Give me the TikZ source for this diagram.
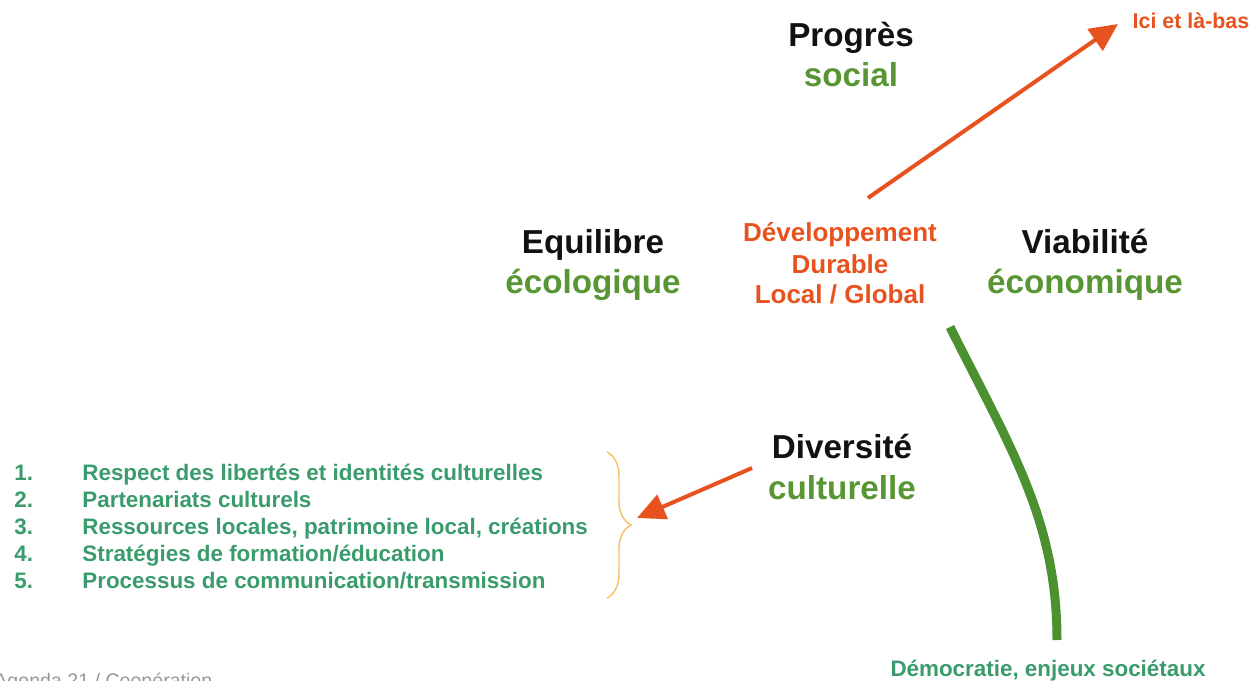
\documentclass[tikz,border=0pt]{standalone}
\usepackage{fontspec}
\setmainfont{Liberation Sans}
\usetikzlibrary{arrows.meta,decorations.pathreplacing}
\definecolor{leafgreen}{RGB}{88,150,52}
\definecolor{arcgreen}{RGB}{76,145,48}
\definecolor{tealgreen}{RGB}{58,155,108}
\definecolor{ddorange}{RGB}{232,82,30}
\definecolor{braceorange}{RGB}{246,192,96}
\definecolor{footgray}{RGB}{150,150,150}

\begin{document}
\begin{tikzpicture}[x=0.5pt,y=-0.5pt,
    pillar/.style={anchor=base,inner sep=0pt,font=\fontsize{16.6}{20}\selectfont\bfseries,text=black!93},
    quality/.style={pillar,text=leafgreen},
    centre/.style={anchor=base,inner sep=0pt,font=\fontsize{13}{16}\selectfont\bfseries,text=ddorange},
    listitem/.style={anchor=base west,inner sep=0pt,font=\fontsize{11.2}{14}\selectfont\bfseries,text=tealgreen},
    ddarrow/.style={line width=2pt,ddorange,-{Triangle[length=14pt,width=13pt]}}]
  \useasboundingbox (0,0) rectangle (1255,681);

  % the four pillars
  \node[pillar] (progres) at (851,46) {Progrès};
  \node[quality] (social) at (851,86) {social};
  \node[pillar] (equilibre) at (593,253) {Equilibre};
  \node[quality] (ecologique) at (593,293) {écologique};
  \node[pillar] (viabilite) at (1085,253) {Viabilité};
  \node[quality] (economique) at (1085,293) {économique};
  \node[pillar] (diversite) at (842,458) {Diversité};
  \node[quality] (culturelle) at (842,499) {culturelle};

  % centre
  \node[centre] (dev) at (840,241) {Développement};
  \node[centre] (durable) at (840,273) {Durable};
  \node[centre] (locglob) at (840,303) {Local / Global};

  \node[centre,font=\fontsize{10.7}{13}\selectfont\bfseries] (ici) at (1191,28) {Ici et là-bas};
  \coordinate (devtop) at (868,198);
  \coordinate (icitip) at (1118,24);
  \draw[ddarrow] (devtop) -- (icitip);

  % democratie arc
  \draw[arcgreen,line width=4.5pt] (950,327) .. controls (1010,447) and (1057,520) .. (1057,640);
  \node[anchor=base,inner sep=0pt,font=\fontsize{11.2}{14}\selectfont\bfseries,text=tealgreen] (democratie) at (1048,676) {Démocratie, enjeux sociétaux};

  % list of cultural stakes
  \foreach \t [count=\i] in {{Respect des libertés et identités culturelles},{Partenariats culturels},{Ressources locales, patrimoine local, créations},{Stratégies de formation/éducation},{Processus de communication/transmission}}{
    \node[listitem] (num\i) at (14,453+27*\i) {\i.};
    \node[listitem] (item\i) at (82,453+27*\i) {\t};
  }
  \draw[braceorange,line width=0.7pt,decorate,decoration={brace,amplitude=12pt}] (607,452) -- (607,598);
  \coordinate (bracetip) at (637,518);
  \coordinate (divleft) at (752,468);
  \draw[ddarrow] (divleft) -- (bracetip);

  \node[anchor=base west,inner sep=0pt,font=\fontsize{9.8}{12}\selectfont,text=footgray] (agenda) at (-6,687) {Agenda 21 / Coopération};
\end{tikzpicture}
\end{document}
